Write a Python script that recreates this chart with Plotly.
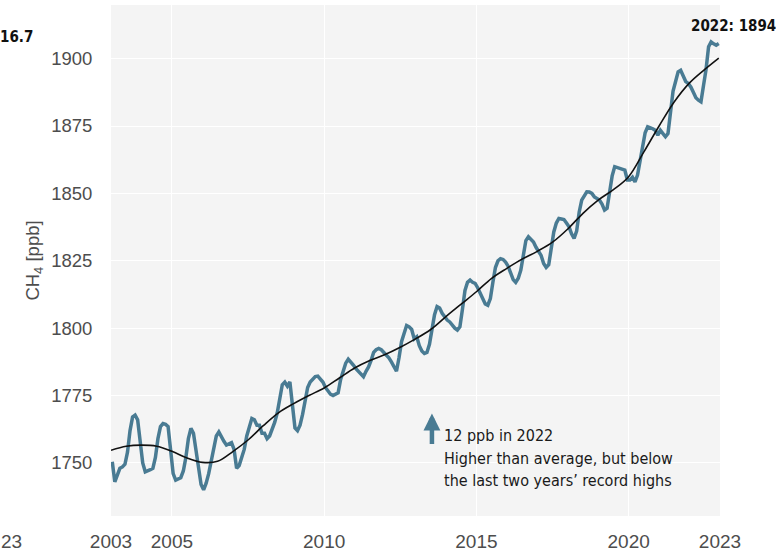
import plotly.graph_objects as go

# Monthly mean CH4 (ppb), January to December of each year
start_year = 2003
monthly_ch4 = [
    1750.4, 1743.0, 1745.5, 1748.0, 1748.5, 1749.5, 1754.0, 1762.0, 1767.0, 1767.7, 1766.0, 1758.0,  # 2003
    1750.0, 1746.7, 1747.0, 1747.5, 1748.0, 1752.0, 1759.0, 1763.5, 1764.6, 1764.3, 1763.5, 1755.0,  # 2004
    1746.0, 1743.6, 1744.0, 1744.5, 1747.0, 1752.0, 1759.0, 1762.8, 1761.0, 1754.0, 1747.0, 1742.0,  # 2005
    1740.0, 1742.5, 1746.0, 1750.4, 1756.0, 1760.0, 1761.5, 1759.5, 1758.0, 1756.6, 1757.0, 1757.5,  # 2006
    1755.0, 1748.0, 1749.0, 1752.0, 1755.0, 1760.0, 1763.5, 1766.5, 1766.0, 1764.0, 1764.0, 1761.0,  # 2007
    1761.0, 1759.0, 1760.0, 1762.5, 1765.0, 1768.5, 1774.0, 1779.0, 1780.0, 1778.5, 1780.0, 1770.0,  # 2008
    1763.0, 1762.0, 1764.0, 1768.0, 1773.0, 1778.0, 1780.0, 1781.0, 1782.0, 1782.2, 1781.0, 1780.0,  # 2009
    1778.0, 1776.5, 1775.5, 1775.0, 1775.5, 1776.0, 1781.0, 1784.0, 1787.0, 1788.5, 1787.5, 1786.3,  # 2010
    1785.0, 1784.0, 1783.0, 1782.0, 1784.0, 1785.6, 1788.0, 1791.0, 1792.0, 1792.5, 1792.0, 1791.0,  # 2011
    1790.0, 1789.0, 1787.5, 1786.0, 1784.0, 1789.0, 1795.0, 1798.0, 1801.0, 1800.5, 1799.5, 1796.0,  # 2012
    1796.8, 1793.5, 1791.5, 1790.6, 1791.0, 1794.0, 1799.5, 1805.0, 1808.0, 1807.5, 1805.5, 1804.0,  # 2013
    1803.0, 1802.3, 1801.0, 1800.0, 1799.3, 1800.5, 1807.0, 1814.0, 1817.0, 1817.8, 1817.0, 1816.6,  # 2014
    1815.0, 1813.0, 1811.0, 1809.0, 1808.5, 1811.0, 1817.0, 1822.5, 1825.0, 1825.8, 1825.5, 1824.5,  # 2015
    1823.0, 1820.5, 1818.0, 1817.0, 1818.5, 1821.5, 1828.0, 1832.5, 1833.9, 1833.0, 1832.0, 1830.0,  # 2016
    1828.3, 1827.0, 1824.0, 1822.5, 1823.5, 1830.0, 1835.7, 1839.0, 1840.7, 1840.5, 1840.3, 1839.0,  # 2017
    1837.6, 1835.0, 1833.3, 1836.0, 1843.0, 1847.5, 1849.0, 1850.6, 1850.5, 1850.0, 1848.7, 1848.0,  # 2018
    1847.5, 1846.0, 1843.8, 1844.5, 1850.0, 1856.5, 1859.9, 1859.5, 1859.3, 1859.0, 1858.6, 1855.0,  # 2019
    1855.0, 1856.0, 1854.3, 1856.8, 1862.0, 1869.0, 1872.5, 1874.7, 1874.5, 1874.0, 1873.4, 1871.6,  # 2020
    1873.4, 1872.0, 1871.0, 1872.2, 1880.0, 1888.0, 1891.5, 1895.1, 1895.7, 1893.5, 1891.5, 1890.8,  # 2021
    1889.5, 1887.5, 1885.5, 1884.6, 1884.0, 1890.0, 1896.0, 1904.4, 1906.2, 1905.5, 1905.0, 1905.6,  # 2022
]
monthly_time = [start_year + i // 12 + (i % 12 + 0.5) / 12 for i in range(len(monthly_ch4))]

# Deseasonalised trend (ppb)
trend_years = [2003.0, 2003.5, 2004.0, 2004.5, 2005.0, 2005.5, 2006.0, 2006.5, 2007.0, 2007.5,
               2008.0, 2008.5, 2009.0, 2009.5, 2010.0, 2010.5, 2011.0, 2011.5, 2012.0, 2012.5,
               2013.0, 2013.5, 2014.0, 2014.5, 2015.0, 2015.5, 2016.0, 2016.5, 2017.0, 2017.5,
               2018.0, 2018.5, 2019.0, 2019.5, 2020.0, 2020.5, 2021.0, 2021.5, 2022.0, 2022.5, 2022.96]
trend_ch4 = [1754.7, 1756.2, 1756.6, 1756.2, 1754.3, 1751.8, 1750.2, 1750.6, 1754.2, 1758.5,
             1763.8, 1768.6, 1772.0, 1775.0, 1777.8, 1781.5, 1785.2, 1788.0, 1790.2, 1792.9,
             1796.0, 1799.5, 1804.3, 1808.9, 1813.5, 1818.5, 1822.2, 1825.6, 1828.5, 1831.9,
             1836.8, 1842.6, 1847.5, 1851.4, 1856.2, 1865.4, 1875.0, 1884.0, 1891.0, 1896.0, 1900.2]

annual_year = 2022
annual_mean = 1894
growth_2022 = 12

x_ticks = [2003, 2005, 2010, 2015, 2020, 2023]
y_ticks = [1750, 1775, 1800, 1825, 1850, 1875, 1900]

BLUE = "#497b93"
TICK_GREY = "#4d4d4d"
NARROW = "Liberation Sans Narrow, DejaVu Sans Condensed, Arial Narrow, sans-serif"
REGULAR = "Liberation Sans, Arial, sans-serif"

# page and plot-area geometry (px)
W, H = 776, 552
ML, MR, MT, MB = 111, 56, 5, 36
pw, ph = W - ML - MR, H - MT - MB


def px_to_paper(px, py):
    return (px - ML) / pw, 1 - (py - MT) / ph


fig = go.Figure()
fig.add_trace(go.Scatter(
    x=monthly_time, y=monthly_ch4, mode="lines",
    line=dict(color=BLUE, width=3.5), hoverinfo="skip", showlegend=False,
))
fig.add_trace(go.Scatter(
    x=trend_years, y=trend_ch4, mode="lines",
    line=dict(color="#111111", width=1.6, shape="spline", smoothing=1.0),
    hoverinfo="skip", showlegend=False,
))

label_x, label_y = px_to_paper(733, 26)
frag1_x, frag1_y = px_to_paper(-2, 37)
frag2_x, frag2_y = px_to_paper(-1, 541)

annotations = [
    # annual mean at the end of the series
    dict(x=label_x, y=label_y, xref="paper", yref="paper", showarrow=False,
         text=f"{annual_year}: {annual_mean}", xanchor="center", yanchor="middle",
         font=dict(family=NARROW, size=15, color="#111111", weight="bold")),
    # growth-rate arrow and note
    dict(x=2013.54, y=1768.3, ax=2013.54, ay=1756.5, xref="x", yref="y",
         axref="x", ayref="y", text="", showarrow=True,
         arrowhead=2, arrowsize=0.75, arrowwidth=4.5, arrowcolor=BLUE),
    dict(x=2013.88, y=1760.0, xref="x", yref="y", showarrow=False, align="left",
         xanchor="left", yanchor="middle",
         text=f"{growth_2022} ppb in {annual_year}",
         font=dict(family=NARROW, size=16, color="#1a1a1a")),
    dict(x=2013.88, y=1751.8, xref="x", yref="y", showarrow=False, align="left",
         xanchor="left", yanchor="middle",
         text="Higher than average, but below",
         font=dict(family=NARROW, size=16, color="#1a1a1a")),
    dict(x=2013.88, y=1743.6, xref="x", yref="y", showarrow=False, align="left",
         xanchor="left", yanchor="middle",
         text="the last two years’ record highs",
         font=dict(family=NARROW, size=16, color="#1a1a1a")),
    # edge of the neighbouring panel
    dict(x=frag1_x, y=frag1_y, xref="paper", yref="paper", showarrow=False,
         text="16.7", xanchor="left", yanchor="middle",
         font=dict(family=NARROW, size=15, color="#111111", weight="bold")),
    dict(x=frag2_x, y=frag2_y, xref="paper", yref="paper", showarrow=False,
         text="23", xanchor="left", yanchor="middle",
         font=dict(family=REGULAR, size=19, color=TICK_GREY)),
]

fig.update_layout(
    width=W, height=H,
    margin=dict(l=ML, r=MR, t=MT, b=MB, pad=0, autoexpand=False),
    paper_bgcolor="white", plot_bgcolor="#f4f4f4",
    font=dict(family=REGULAR, color=TICK_GREY),
    annotations=annotations,
    xaxis=dict(range=[2003, 2023], tickvals=x_ticks, ticktext=[str(v) for v in x_ticks],
               automargin=False,
               showgrid=True, gridcolor="white", gridwidth=1, zeroline=False,
               showline=False, ticks="outside", ticklen=8, tickcolor="rgba(0,0,0,0)",
               tickfont=dict(family=REGULAR, size=19, color=TICK_GREY)),
    yaxis=dict(range=[1730.3, 1919.9], tickvals=y_ticks, automargin=False,
               showgrid=True, gridcolor="white", gridwidth=1, zeroline=False,
               showline=False, ticks="outside", ticklen=14, tickcolor="rgba(0,0,0,0)",
               tickfont=dict(family=REGULAR, size=18.5, color=TICK_GREY),
               title=dict(text="CH<sub>4</sub> [ppb]", standoff=6,
                          font=dict(family=REGULAR, size=18.5, color=TICK_GREY))),
)

fig.write_html("out.html")
